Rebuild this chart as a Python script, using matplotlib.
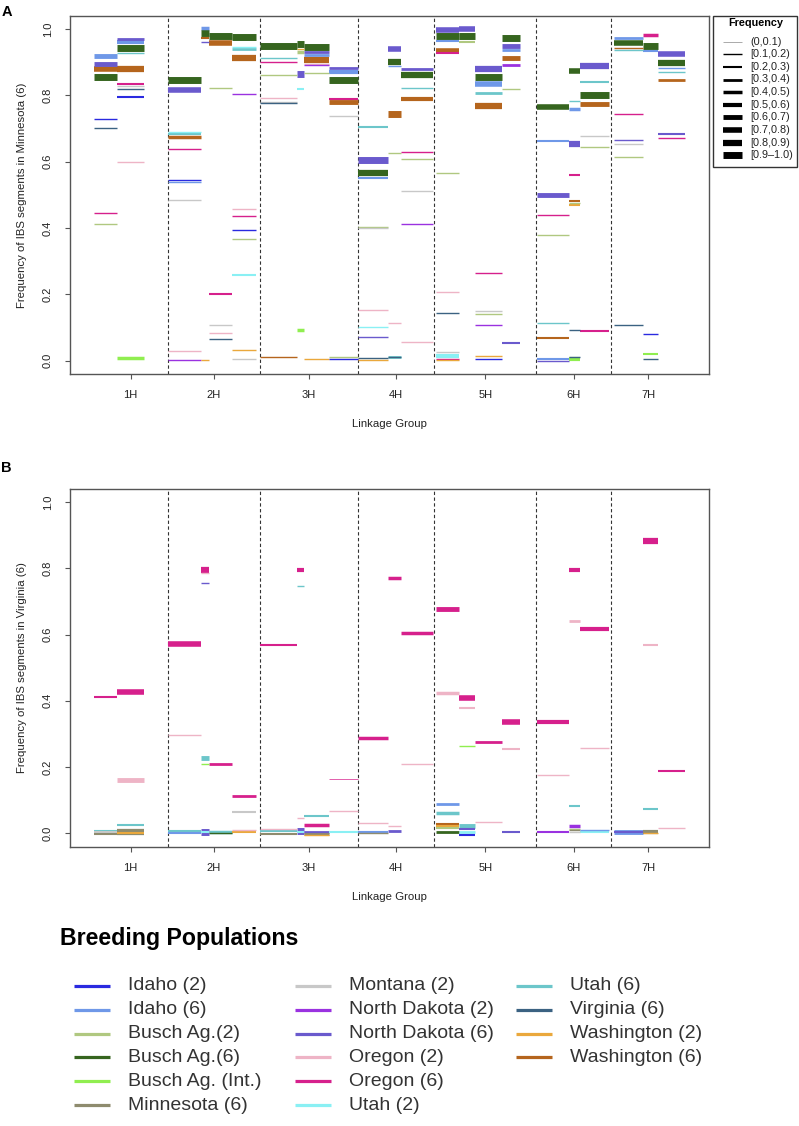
import matplotlib
matplotlib.use("Agg")
import matplotlib.pyplot as plt
import numpy as np

plt.rcParams['font.family'] = ['Liberation Sans', 'DejaVu Sans']

# ---------------- data ----------------
chromosomes = ["1H", "2H", "3H", "4H", "5H", "6H", "7H"]
chrom_lengths = [148, 184, 196, 154, 204, 150, 148]

window_ids = ["1a", "1b",
              "2a", "2b", "2c", "2d",
              "3a", "3b", "3c", "3d",
              "4a", "4b", "4c",
              "5a", "5b", "5c", "5d",
              "6a", "6b", "6c",
              "7a", "7b", "7c"]
window_chrom = [0, 0, 1, 1, 1, 1, 2, 2, 2, 2, 3, 3, 3, 4, 4, 4, 4, 5, 5, 5, 6, 6, 6]
window_start = [0, 47, 0, 66, 83, 129, 0, 74, 88, 139, 0, 61, 88, 3, 49, 81, 136, 2, 65, 87, 5, 63, 93]
window_end = [47, 100, 66, 83, 129, 176, 74, 88, 139, 196, 61, 88, 151, 49, 81, 136, 172, 65, 87, 146, 63, 93, 148]

pop_keys = ["ID2", "ID6", "BA2", "BA6", "BAI", "MN6", "MT2", "ND2", "ND6",
            "OR2", "OR6", "UT2", "UT6", "VA6", "WA2", "WA6"]
pop_labels = ["Idaho (2)", "Idaho (6)", "Busch Ag.(2)", "Busch Ag.(6)", "Busch Ag. (Int.)",
              "Minnesota (6)", "Montana (2)", "North Dakota (2)", "North Dakota (6)",
              "Oregon (2)", "Oregon (6)", "Utah (2)", "Utah (6)", "Virginia (6)",
              "Washington (2)", "Washington (6)"]
pop_colors = ["#2a2ae0", "#6f98e8", "#b0c880", "#36651f", "#90ee50", "#8e8b6e",
              "#c8c8c8", "#9a32e0", "#6a5acd", "#eeb4c6", "#d6208c", "#8af0f4",
              "#6cc6ca", "#3b6282", "#eaa83c", "#b5651d"]

freq_bin_labels = ["(0,0.1)", "[0.1,0.2)", "[0.2,0.3)", "[0.3,0.4)", "[0.4,0.5)",
                   "[0.5,0.6)", "[0.6,0.7)", "[0.7,0.8)", "[0.8,0.9)", "[0.9\u20131.0)"]

# (window, population, frequency of IBS segment, frequency bin 1..10)
segments_A = [
    ("1a", "ID6", 0.920, 7), ("1a", "ND6", 0.894, 7), ("1a", "WA6", 0.879, 8), ("1a", "BA6", 0.855, 10),
    ("1a", "ID2", 0.729, 2), ("1a", "VA6", 0.700, 2), ("1a", "OR6", 0.445, 2), ("1a", "BA2", 0.411, 2),
    ("1b", "ND6", 0.971, 4), ("1b", "ID6", 0.961, 6), ("1b", "BA6", 0.944, 10), ("1b", "UT6", 0.927, 2),
    ("1b", "WA6", 0.880, 9), ("1b", "OR6", 0.834, 3), ("1b", "MT2", 0.827, 2), ("1b", "VA6", 0.820, 2),
    ("1b", "ID2", 0.796, 3), ("1b", "OR2", 0.598, 2), ("1b", "BAI", 0.008, 5),
    ("2a", "BA6", 0.847, 10), ("2a", "ND6", 0.817, 8), ("2a", "UT2", 0.688, 2), ("2a", "UT6", 0.684, 3),
    ("2a", "WA6", 0.673, 5), ("2a", "OR6", 0.637, 2), ("2a", "ID2", 0.545, 2), ("2a", "ID6", 0.540, 2),
    ("2a", "MT2", 0.484, 2), ("2a", "OR2", 0.029, 2), ("2a", "ND2", 0.002, 2),
    ("2b", "ID6", 1.004, 5), ("2b", "BA6", 0.988, 10), ("2b", "WA6", 0.973, 3), ("2b", "ND6", 0.962, 2),
    ("2b", "WA2", 0.002, 2),
    ("2c", "BA6", 0.980, 10), ("2c", "WA6", 0.959, 8), ("2c", "BA2", 0.821, 2), ("2c", "OR6", 0.202, 3),
    ("2c", "MT2", 0.109, 2), ("2c", "OR2", 0.085, 2), ("2c", "VA6", 0.064, 2),
    ("2d", "BA6", 0.977, 10), ("2d", "UT2", 0.946, 2), ("2d", "UT6", 0.941, 4), ("2d", "WA6", 0.913, 9),
    ("2d", "ND2", 0.803, 2), ("2d", "OR2", 0.458, 2), ("2d", "OR6", 0.435, 2), ("2d", "ID2", 0.393, 2),
    ("2d", "BA2", 0.366, 2), ("2d", "UT2", 0.258, 3), ("2d", "WA2", 0.031, 2), ("2d", "MT2", 0.004, 2),
    ("3a", "BA6", 0.949, 10), ("3a", "UT6", 0.911, 2), ("3a", "OR6", 0.900, 2), ("3a", "BA2", 0.860, 2),
    ("3a", "OR2", 0.791, 2), ("3a", "MT2", 0.779, 2), ("3a", "VA6", 0.776, 2), ("3a", "WA6", 0.011, 2),
    ("3b", "BA6", 0.956, 10), ("3b", "WA2", 0.940, 2), ("3b", "BA2", 0.932, 5), ("3b", "ND6", 0.865, 10),
    ("3b", "UT2", 0.819, 3), ("3b", "BAI", 0.092, 5),
    ("3c", "BA6", 0.946, 10), ("3c", "ND6", 0.931, 4), ("3c", "ID6", 0.923, 4), ("3c", "WA6", 0.907, 9),
    ("3c", "OR2", 0.895, 2), ("3c", "ND2", 0.891, 2), ("3c", "BA2", 0.866, 2), ("3c", "WA2", 0.004, 2),
    ("3d", "ND6", 0.883, 4), ("3d", "ID6", 0.870, 6), ("3d", "BA6", 0.845, 10), ("3d", "OR6", 0.789, 3),
    ("3d", "WA6", 0.779, 7), ("3d", "MT2", 0.737, 2), ("3d", "BA2", 0.010, 2), ("3d", "ID2", 0.004, 2),
    ("4a", "UT6", 0.706, 3), ("4a", "ND6", 0.604, 10), ("4a", "BA6", 0.565, 9), ("4a", "ID6", 0.550, 3),
    ("4a", "BA2", 0.404, 2), ("4a", "MT2", 0.400, 2), ("4a", "OR2", 0.153, 2), ("4a", "UT2", 0.102, 2),
    ("4a", "ND6", 0.072, 2), ("4a", "VA6", 0.007, 2), ("4a", "WA2", 0.002, 2),
    ("4b", "ND6", 0.939, 8), ("4b", "BA6", 0.900, 9), ("4b", "ID6", 0.888, 2), ("4b", "WA6", 0.745, 10),
    ("4b", "BA2", 0.625, 2), ("4b", "OR2", 0.113, 2), ("4b", "UT6", 0.012, 4), ("4b", "VA6", 0.010, 2),
    ("4c", "ND6", 0.879, 4), ("4c", "BA6", 0.861, 9), ("4c", "UT6", 0.821, 2), ("4c", "WA6", 0.790, 6),
    ("4c", "OR6", 0.630, 2), ("4c", "BA2", 0.607, 2), ("4c", "MT2", 0.511, 2), ("4c", "ND2", 0.411, 2),
    ("4c", "OR2", 0.057, 2),
    ("5a", "ND6", 0.997, 8), ("5a", "BA6", 0.978, 10), ("5a", "ID6", 0.964, 3), ("5a", "WA6", 0.935, 8),
    ("5a", "OR6", 0.927, 3), ("5a", "BA2", 0.565, 2), ("5a", "OR2", 0.206, 2), ("5a", "VA6", 0.145, 2),
    ("5a", "MT2", 0.027, 2), ("5a", "UT2", 0.015, 6), ("5a", "OR6", 0.004, 2), ("5a", "WA2", 0.001, 2),
    ("5b", "ND6", 1.000, 8), ("5b", "BA6", 0.978, 10), ("5b", "BA2", 0.962, 3),
    ("5c", "ND6", 0.880, 9), ("5c", "BA6", 0.854, 10), ("5c", "ID6", 0.835, 8), ("5c", "UT6", 0.807, 4),
    ("5c", "WA6", 0.767, 9), ("5c", "OR6", 0.263, 2), ("5c", "MT2", 0.150, 2), ("5c", "BA2", 0.141, 2),
    ("5c", "ND2", 0.107, 2), ("5c", "WA2", 0.015, 2), ("5c", "ID2", 0.005, 2),
    ("5d", "BA6", 0.972, 10), ("5d", "ND6", 0.950, 7), ("5d", "ID6", 0.938, 4), ("5d", "WA6", 0.913, 7),
    ("5d", "ND2", 0.890, 4), ("5d", "BA2", 0.818, 2), ("5d", "ND6", 0.054, 3),
    ("6a", "BA6", 0.764, 8), ("6a", "ID6", 0.661, 3), ("6a", "ND6", 0.500, 7), ("6a", "OR6", 0.438, 2),
    ("6a", "BA2", 0.378, 2), ("6a", "UT6", 0.113, 2), ("6a", "WA6", 0.070, 3), ("6a", "ID6", 0.004, 3),
    ("6a", "ND6", 0.000, 2),
    ("6b", "BA6", 0.873, 8), ("6b", "UT6", 0.784, 2), ("6b", "ID6", 0.760, 5), ("6b", "ND6", 0.653, 9),
    ("6b", "OR6", 0.560, 3), ("6b", "WA6", 0.482, 3), ("6b", "BA2", 0.476, 2), ("6b", "WA2", 0.470, 3),
    ("6b", "VA6", 0.092, 2), ("6b", "VA6", 0.012, 2), ("6b", "BAI", 0.005, 6),
    ("6c", "ND6", 0.889, 9), ("6c", "UT6", 0.839, 3), ("6c", "BA6", 0.801, 10), ("6c", "WA6", 0.775, 7),
    ("6c", "MT2", 0.677, 2), ("6c", "BA2", 0.644, 2), ("6c", "OR6", 0.090, 3),
    ("7a", "ID6", 0.972, 4), ("7a", "BA6", 0.958, 8), ("7a", "WA6", 0.943, 2), ("7a", "UT6", 0.938, 2),
    ("7a", "OR6", 0.744, 2), ("7a", "ND6", 0.665, 2), ("7a", "MT2", 0.653, 2), ("7a", "BA2", 0.615, 2),
    ("7a", "VA6", 0.108, 2),
    ("7b", "OR6", 0.983, 5), ("7b", "BA6", 0.948, 10), ("7b", "ID6", 0.933, 3), ("7b", "ID2", 0.080, 2),
    ("7b", "BAI", 0.020, 3), ("7b", "VA6", 0.004, 2),
    ("7c", "ND6", 0.926, 8), ("7c", "BA6", 0.896, 9), ("7c", "ID6", 0.881, 2), ("7c", "UT6", 0.869, 2),
    ("7c", "WA6", 0.847, 4), ("7c", "ND6", 0.683, 3), ("7c", "OR6", 0.671, 2),
]

segments_B = [
    ("1a", "OR6", 0.413, 3), ("1a", "UT6", 0.008, 3), ("1a", "MT2", 0.003, 3), ("1a", "MN6", -0.002, 3),
    ("1b", "OR6", 0.428, 8), ("1b", "OR2", 0.160, 7), ("1b", "UT6", 0.026, 3), ("1b", "MN6", 0.003, 9),
    ("1b", "WA2", 0.001, 3),
    ("2a", "OR6", 0.571, 8), ("2a", "OR2", 0.297, 2), ("2a", "UT6", 0.006, 3), ("2a", "ID6", 0.002, 3),
    ("2b", "OR6", 0.796, 9), ("2b", "OR2", 0.786, 2), ("2b", "ND6", 0.757, 2), ("2b", "UT6", 0.228, 7),
    ("2b", "BAI", 0.210, 2), ("2b", "ND6", 0.003, 10), ("2b", "UT2", 0.003, 3),
    ("2c", "OR6", 0.210, 4), ("2c", "UT6", 0.004, 5), ("2c", "BA6", 0.001, 2),
    ("2d", "OR6", 0.113, 4), ("2d", "MT2", 0.065, 3), ("2d", "OR2", 0.010, 2), ("2d", "WA2", 0.004, 3),
    ("3a", "OR6", 0.568, 3), ("3a", "OR2", 0.012, 2), ("3a", "UT6", 0.006, 3), ("3a", "MN6", -0.002, 3),
    ("3b", "OR6", 0.794, 6), ("3b", "UT6", 0.747, 2), ("3b", "OR2", 0.047, 2), ("3b", "ND6", 0.007, 10),
    ("3b", "UT2", 0.003, 3),
    ("3c", "UT6", 0.053, 3), ("3c", "OR6", 0.025, 5), ("3c", "ND6", 0.005, 4), ("3c", "MN6", -0.002, 4),
    ("3c", "WA2", -0.005, 2),
    ("3d", "OR6", 0.164, 1), ("3d", "OR2", 0.069, 2), ("3d", "UT2", 0.003, 3),
    ("4a", "OR6", 0.287, 5), ("4a", "OR2", 0.031, 2), ("4a", "ID6", 0.004, 3), ("4a", "MN6", 0.000, 2),
    ("4b", "OR6", 0.772, 5), ("4b", "OR2", 0.022, 2), ("4b", "ND6", 0.006, 4),
    ("4c", "OR6", 0.606, 5), ("4c", "OR2", 0.210, 2),
    ("5a", "OR6", 0.678, 7), ("5a", "OR2", 0.423, 5), ("5a", "ID6", 0.088, 4), ("5a", "UT6", 0.062, 5),
    ("5a", "WA6", 0.029, 3), ("5a", "WA2", 0.021, 3), ("5a", "BA2", 0.015, 3), ("5a", "BA6", 0.005, 4),
    ("5b", "OR6", 0.410, 8), ("5b", "OR2", 0.379, 3), ("5b", "BAI", 0.263, 2), ("5b", "UT6", 0.022, 7),
    ("5b", "ND6", 0.012, 3), ("5b", "UT2", 0.004, 4), ("5b", "ID2", -0.005, 3),
    ("5c", "OR6", 0.275, 4), ("5c", "OR2", 0.034, 2),
    ("5d", "OR6", 0.337, 8), ("5d", "OR2", 0.256, 3), ("5d", "ND6", 0.003, 3),
    ("6a", "OR6", 0.337, 6), ("6a", "OR2", 0.175, 2), ("6a", "ND2", 0.003, 3),
    ("6b", "OR6", 0.796, 6), ("6b", "OR2", 0.641, 4), ("6b", "UT6", 0.084, 3), ("6b", "ND2", 0.021, 5),
    ("6b", "BA2", 0.014, 2), ("6b", "MN6", 0.009, 2), ("6b", "MT2", 0.004, 2),
    ("6c", "OR6", 0.618, 6), ("6c", "OR2", 0.259, 2), ("6c", "ID6", 0.009, 2), ("6c", "UT2", 0.003, 3),
    ("7a", "ID6", 0.003, 7), ("7a", "ND6", 0.003, 3),
    ("7b", "OR6", 0.882, 9), ("7b", "OR2", 0.568, 3), ("7b", "UT6", 0.075, 3), ("7b", "MN6", 0.003, 6),
    ("7b", "WA2", 0.000, 2),
    ("7c", "OR6", 0.189, 3), ("7c", "OR2", 0.016, 2),
]

y_labels = ["Frequency of IBS segments in Minnesota (6)",
            "Frequency of IBS segments in Virginia (6)"]
panel_letters = ["A", "B"]

# ---------------- derived ----------------
chrom_offsets = np.concatenate([[0], np.cumsum(chrom_lengths)])
total = chrom_offsets[-1]
chrom_mids = (chrom_offsets[:-1] + chrom_offsets[1:]) / 2
win_index = {w: i for i, w in enumerate(window_ids)}
pop_color = dict(zip(pop_keys, pop_colors))

W, H = 799, 1126
fig = plt.figure(figsize=(W / 100, H / 100), dpi=100, facecolor="white")

def px_axes(left, top, right, bottom):
    return fig.add_axes([left / W, 1 - bottom / H, (right - left) / W, (bottom - top) / H])

TXT = "#222222"
panels = [(segments_A, 15.7, 374.0), (segments_B, 488.7, 846.7)]
L, R = 70.0, 709.0

for p, (segs, top, bot) in enumerate(panels):
    ax = px_axes(L, top, R, bot)
    ax.set_xlim(-0.04 * total, 1.04 * total)
    ax.set_ylim(-0.04, 1.04)
    for b in chrom_offsets[1:-1]:
        ax.axvline(b, color="#333333", lw=0.8, ls=(0, (3, 2.2)), zorder=1)
    order = sorted(range(len(segs)), key=lambda i: -segs[i][3])
    for i in order:
        w, pk, y, fb = segs[i]
        wi = win_index[w]
        off = chrom_offsets[window_chrom[wi]]
        ax.plot([off + window_start[wi], off + window_end[wi]], [y, y],
                color=pop_color[pk], lw=0.5 * fb, solid_capstyle="butt", zorder=2)
    for s in ax.spines.values():
        s.set_color("#555555")
        s.set_linewidth(1.0)
    ax.set_yticks([0, 0.2, 0.4, 0.6, 0.8, 1.0])
    ax.set_yticklabels(["0.0", "0.2", "0.4", "0.6", "0.8", "1.0"], rotation=90, va="center")
    ax.set_xticks(chrom_mids)
    ax.set_xticklabels(chromosomes)
    ax.tick_params(axis="y", length=3.8, width=0.8, color="#555555", pad=8.4,
                   labelsize=8, labelcolor=TXT)
    ax.tick_params(axis="x", length=3.8, width=0.8, color="#555555", pad=8.0,
                   labelsize=8, labelcolor=TXT)

# overlay for texts and legends (pixel coordinates)
ov = fig.add_axes([0, 0, 1, 1], facecolor="none")
ov.set_xlim(0, W)
ov.set_ylim(H, 0)
ov.axis("off")

for p, (segs, top, bot) in enumerate(panels):
    ov.text(22, (top + bot) / 2, y_labels[p], rotation=90, ha="center", va="center",
            fontsize=8.2, color=TXT)
    ov.text((L + R) / 2, bot + 50, "Linkage Group", ha="center", va="center",
            fontsize=8.2, color=TXT)
    ov.text(1.5, top - 4 if p == 0 else top - 21, panel_letters[p], ha="left", va="center",
            fontsize=10.5, fontweight="bold", color="black")

# Frequency legend box
ov.add_patch(plt.Rectangle((713, 15.7), 84, 151.6, fill=False, edgecolor="#333333", lw=1.0))
ov.text(755.5, 22.7, "Frequency", ha="center", va="center", fontsize=7.8,
        fontweight="bold", color="black")
for k, lab in enumerate(freq_bin_labels):
    yy = 41.7 + 12.6 * k
    ov.plot([722.7, 741.7], [yy, yy], color="#888888" if k == 0 else "black",
            lw=0.5 * (k + 1), solid_capstyle="butt")
    ov.text(750.5, yy, lab, ha="left", va="center", fontsize=7.8, color=TXT)

# Breeding populations legend
ov.text(60, 938, "Breeding Populations", ha="left", va="center", fontsize=16.7,
        fontweight="bold", color="black")
col_x = [74, 295, 516]
col_counts = [6, 6, 4]
k = 0
for c, n in enumerate(col_counts):
    for r in range(n):
        yy = 985.7 + 23.9 * r
        ov.plot([col_x[c], col_x[c] + 36], [yy, yy], color=pop_colors[k], lw=2.3,
                solid_capstyle="butt")
        ov.text(col_x[c] + 54, yy, pop_labels[k], ha="left", va="center",
                fontsize=14, color="#333333")
        k += 1

fig.savefig("out.png", dpi=100, facecolor="white")
